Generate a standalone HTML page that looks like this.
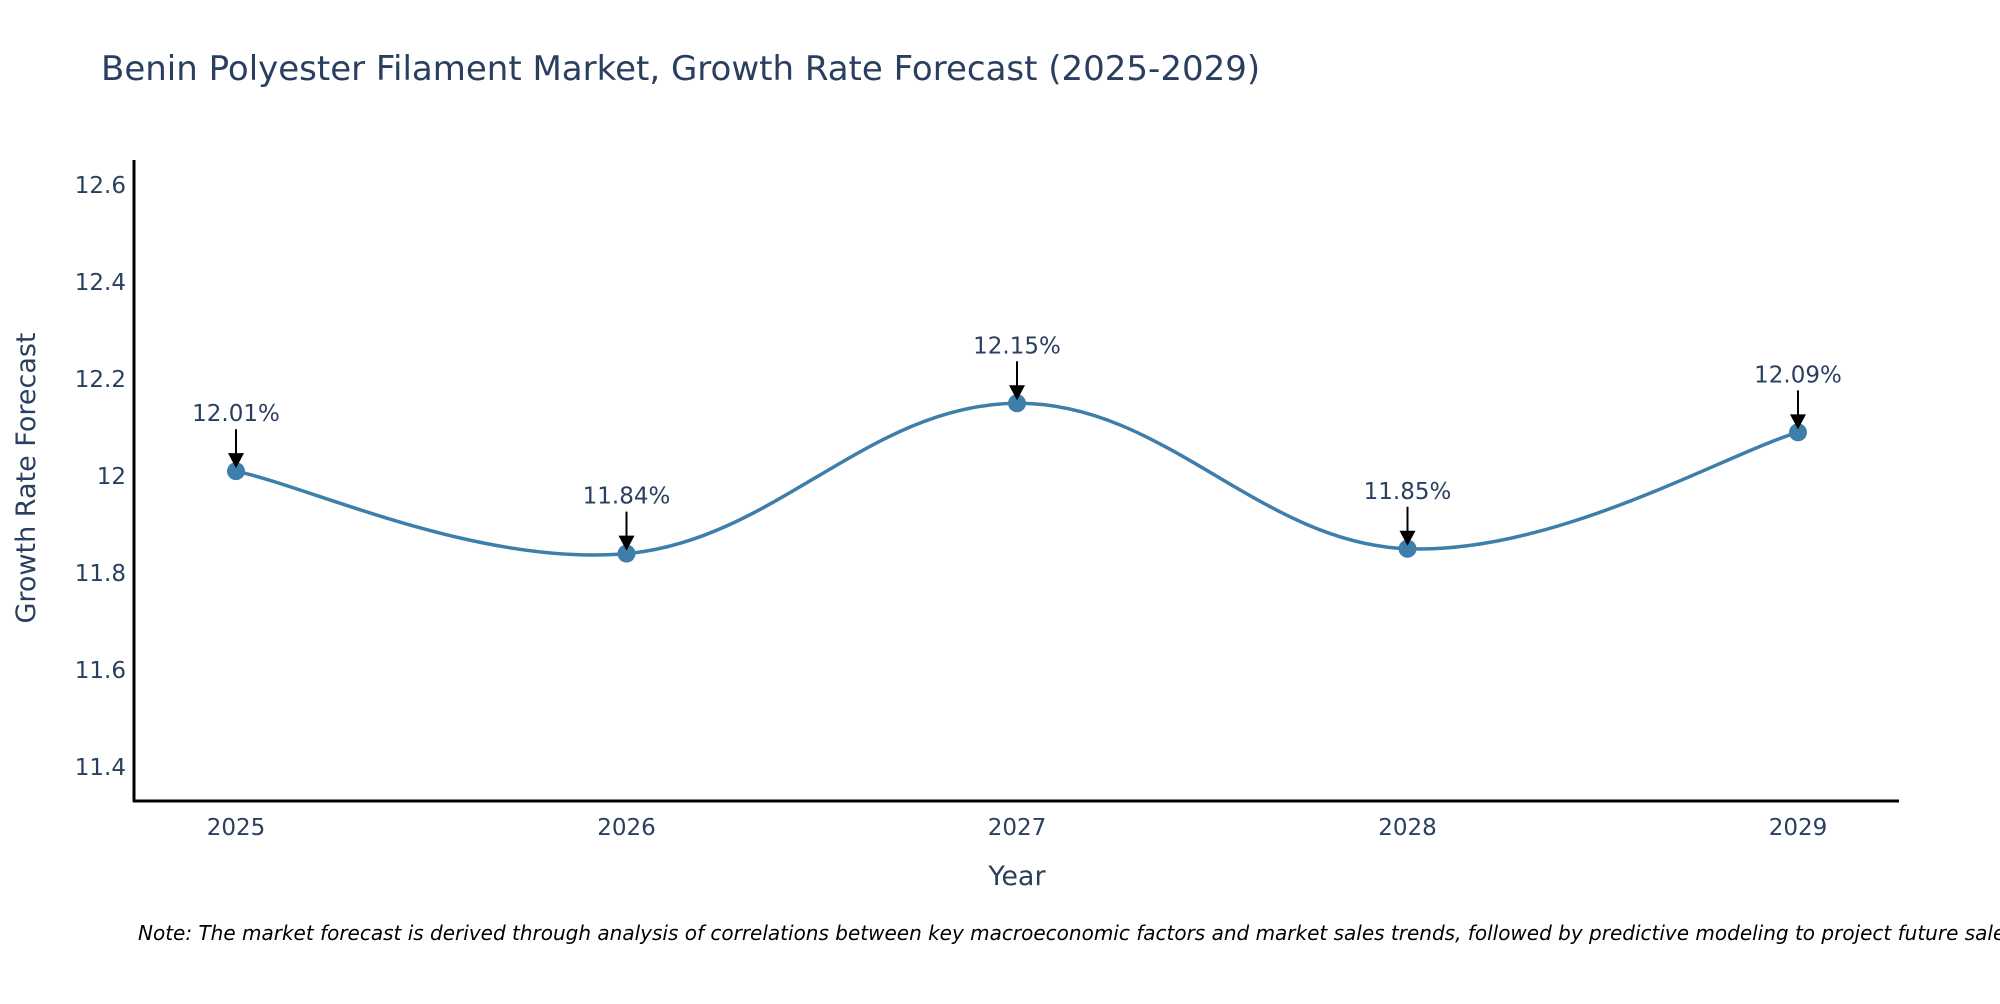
<!DOCTYPE html>
<html><head><meta charset="utf-8"><style>
body{margin:0;background:#fff;width:2000px;height:1000px;overflow:hidden;font-family:"DejaVu Sans","Liberation Sans",sans-serif}
</style></head><body>
<svg id="chart" width="2000" height="1000" xmlns="http://www.w3.org/2000/svg" font-family="DejaVu Sans, Liberation Sans, sans-serif">
<text x="101" y="80" font-size="34" fill="#2a3f5f">Benin Polyester Filament Market, Growth Rate Forecast (2025-2029)</text>
<g id="yticks"></g><g id="xticks"></g>
<line x1="134" y1="160" x2="134" y2="802" stroke="#000" stroke-width="3"/>
<line x1="133" y1="801" x2="1899" y2="801" stroke="#000" stroke-width="3"/>
<text transform="translate(35,478) rotate(-90)" text-anchor="middle" font-size="27" fill="#2a3f5f">Growth Rate Forecast</text>
<text x="1017" y="885" text-anchor="middle" font-size="27" fill="#2a3f5f">Year</text>
<path id="line" fill="none" stroke="#3d7eaa" stroke-width="3.5"/>
<g id="marks"></g>
<text x="138" y="940" font-size="20" font-style="italic" fill="#000">Note: The market forecast is derived through analysis of correlations between key macroeconomic factors and market sales trends, followed by predictive modeling to project future sales.</text>
</svg>
<script>
const years = [2025, 2026, 2027, 2028, 2029];
const rates = [12.01, 11.84, 12.15, 11.85, 12.09];
const yTickValues = [11.4, 11.6, 11.8, 12, 12.2, 12.4, 12.6];
const yTickLabels = ["11.4", "11.6", "11.8", "12", "12.2", "12.4", "12.6"];

const NS = "http://www.w3.org/2000/svg";
function xs(i){ return 236 + (1798-236) * (i - 2025) / 4; }
function ys(v){ return 476 - (v - 12) * (97 / 0.2); }
function mk(tag, attrs, parent){ const e = document.createElementNS(NS, tag); for (const k in attrs) e.setAttribute(k, attrs[k]); parent.appendChild(e); return e; }

const yt = document.getElementById('yticks');
yTickValues.forEach((v, i) => {
  const t = mk('text', {x: 126, y: ys(v) + 8, 'text-anchor': 'end', 'font-size': 23, fill: '#2a3f5f'}, yt);
  
  
  t.textContent = yTickLabels[i];
});
const xt = document.getElementById('xticks');
years.forEach(y => {
  const t = mk('text', {x: xs(y), y: 835, 'text-anchor': 'middle', 'font-size': 23, fill: '#2a3f5f'}, xt);
  
  
  t.textContent = String(y);
});

const pts = years.map((y, i) => [xs(y), ys(rates[i])]);
let d = 'M' + pts[0][0] + ',' + pts[0][1];
const s = 0.19;
for (let i = 0; i < pts.length - 1; i++) {
  const p0 = pts[Math.max(0, i-1)], p1 = pts[i], p2 = pts[i+1], p3 = pts[Math.min(pts.length-1, i+2)];
  const c1 = [p1[0] + (p2[0]-p0[0]) * s, p1[1] + (p2[1]-p0[1]) * s];
  const c2 = [p2[0] - (p3[0]-p1[0]) * s, p2[1] - (p3[1]-p1[1]) * s];
  d += ' C' + c1.join(',') + ' ' + c2.join(',') + ' ' + p2.join(',');
}
document.getElementById('line').setAttribute('d', d);

const g = document.getElementById('marks');
pts.forEach((p, i) => {
  const c = mk('circle', {cx: p[0], cy: p[1], r: 9, fill: '#3d7eaa'}, g);
  
  
  const l = mk('line', {x1: p[0], y1: p[1] - 42, x2: p[0], y2: p[1] - 16, stroke: '#000', 'stroke-width': 2}, g);
  
  
  const h = mk('polygon', {points: (p[0]-8)+','+(p[1]-18)+' '+(p[0]+8)+','+(p[1]-18)+' '+p[0]+','+(p[1]-3), fill: '#000'}, g);
  
  
  const t = mk('text', {x: p[0], y: p[1] - 50, 'text-anchor': 'middle', 'font-size': 23, fill: '#2a3f5f'}, g);
  
  
  t.textContent = rates[i].toFixed(2) + '%';
});
</script>
</body></html>
